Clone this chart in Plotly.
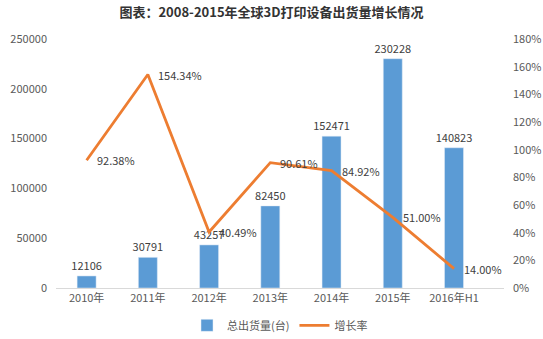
import plotly.graph_objects as go

categories = ["2010年", "2011年", "2012年", "2013年", "2014年", "2015年", "2016年H1"]
shipments = [12106, 30791, 43257, 82450, 152471, 230228, 140823]
growth = [92.38, 154.34, 40.49, 90.61, 84.92, 51.00, 14.00]
growth_labels = ["92.38%", "154.34%", "40.49%", "90.61%", "84.92%", "51.00%", "14.00%"]
left_ticks = [0, 50000, 100000, 150000, 200000, 250000]
right_ticks = [0, 20, 40, 60, 80, 100, 120, 140, 160, 180]

FONT = "Noto Sans CJK SC"
TXT = "#404040"
TICK = "#595959"

fig = go.Figure()
fig.add_trace(go.Bar(
    x=categories, y=shipments, name="总出货量(台)",
    marker_color="#5B9BD5", width=0.31,
    text=[str(v) for v in shipments], textposition="outside",
    constraintext="none",
    textfont=dict(family=FONT, size=11, color=TXT), cliponaxis=False,
))
fig.add_trace(go.Scatter(
    x=categories, y=growth, name="增长率", yaxis="y2",
    mode="lines", line=dict(color="#ED7D31", width=2.8),
    cliponaxis=False,
))

for c, g, t in zip(categories, growth, growth_labels):
    fig.add_annotation(x=c, y=g, xref="x", yref="y2", text=t, showarrow=False,
                       xanchor="left", yanchor="middle", xshift=8,
                       font=dict(family=FONT, size=11, color=TXT))

fig.update_layout(
    width=543, height=339,
    margin=dict(l=56, r=39, t=39, b=51, autoexpand=False),
    paper_bgcolor="white", plot_bgcolor="white",
    font=dict(family=FONT, size=11, color=TICK),
    title=dict(text="<b>图表：2008-2015年全球3D打印设备出货量增长情况</b>",
               x=0.5, xanchor="center", y=0.962, yanchor="middle",
               font=dict(family=FONT, size=13, color="#333333")),
    xaxis=dict(showgrid=False, showline=True, linecolor="#D9D9D9", linewidth=1,
               tickfont=dict(family=FONT, size=11, color=TICK), ticks=""),
    yaxis=dict(range=[0, 250000], tickvals=left_ticks, tickformat="d",
               showgrid=False, zeroline=False,
               showline=False, tickfont=dict(family=FONT, size=11, color=TICK),
               ticklabelstandoff=8),
    yaxis2=dict(range=[0, 180], tickvals=right_ticks,
                ticktext=[f"{v}%" for v in right_ticks], overlaying="y", side="right",
                showgrid=False, zeroline=False, showline=False,
                tickfont=dict(family=FONT, size=11, color=TICK), ticklabelstandoff=8),
    legend=dict(orientation="h", x=0.5, xanchor="center", y=-0.15, yanchor="middle",
                font=dict(family=FONT, size=11, color=TICK), traceorder="normal"),
    showlegend=True,
)

fig.write_html("out.html")
